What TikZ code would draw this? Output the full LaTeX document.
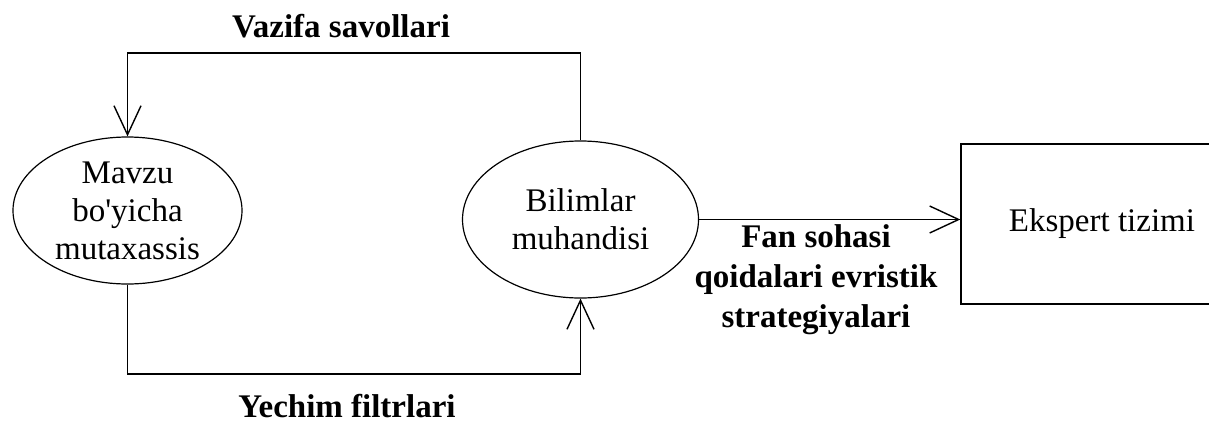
\documentclass[tikz,border=0pt]{standalone}
\usepackage{fontspec}
\setmainfont{Liberation Serif}
\usetikzlibrary{shapes.geometric,arrows.meta}
\begin{document}
\begin{tikzpicture}[x=1pt,y=-1pt,
  bigtext/.style={font=\fontsize{33}{38}\selectfont},
  boldtext/.style={font=\fontsize{33}{40}\selectfont\bfseries},
  oval/.style={draw,ellipse,line width=1.2pt,inner sep=-10pt,align=center,bigtext},
  boxnode/.style={draw,rectangle,line width=1.4pt,minimum width=282pt,minimum height=160pt,bigtext},
  conn/.style={line width=1.4pt},
  arr/.style={conn,-{Straight Barb[length=29pt,width=27pt]}}]
\clip (0,0) rectangle (1209,423);
\useasboundingbox (0,0) rectangle (1209,423);
\node[oval,minimum width=229pt,minimum height=147pt] (mav) at (127.5,210.5) {Mavzu\\bo\textquotesingle yicha\\mutaxassis};
\node[oval,minimum width=236pt,minimum height=157pt] (bil) at (580.5,219.5) {Bilimlar\\muhandisi};
\node[boxnode] (eks) at (1102,224) {Ekspert tizimi};
\coordinate (tl) at (127.5,53);
\coordinate (tr) at (580.5,53);
\coordinate (bl) at (127.5,374);
\coordinate (br) at (580.5,374);
\draw[arr] (bil.north) -- (tr) -- (tl) -- (mav.north);
\draw[arr] (mav.south) -- (bl) -- (br) -- (bil.south);
\draw[arr] (bil.east) -- (eks.west |- bil.east);
\node[boldtext,anchor=base] (vs) at (341,37) {Vazifa savollari};
\node[boldtext,anchor=base] (yf) at (347,417) {Yechim filtrlari};
\node[boldtext,align=center] (fs) at (816,280) {Fan sohasi\\qoidalari evristik\\strategiyalari};
\end{tikzpicture}
\end{document}
